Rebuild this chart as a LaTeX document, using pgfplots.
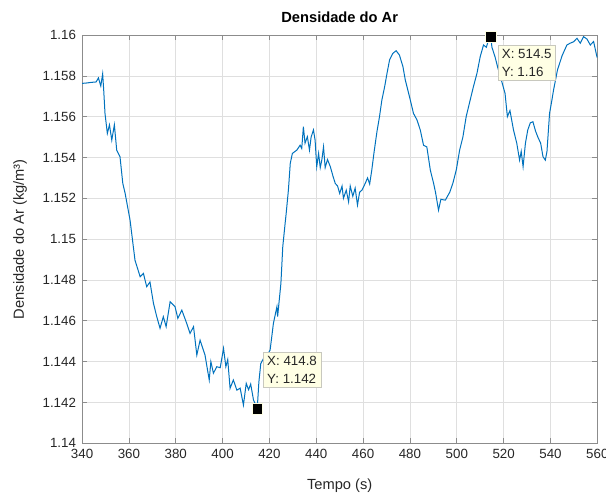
\documentclass[border=0pt]{standalone}
\usepackage{fontspec}
\setmainfont{Liberation Sans}
\usepackage{pgfplots}
\pgfplotsset{compat=1.18}
\definecolor{mblue}{RGB}{0,114,189}
\definecolor{frame}{RGB}{140,140,140}
\definecolor{txt}{RGB}{38,38,38}
\definecolor{tipfill}{RGB}{255,255,228}
\definecolor{tipdraw}{RGB}{200,200,190}
\begin{document}
\begin{tikzpicture}
\useasboundingbox (-61.5pt,-39pt) rectangle (392.75pt,332.25pt);
\begin{axis}[
  at={(0,0)}, anchor=south west,
  scale only axis, width=386.25pt, height=306pt,
  xmin=340, xmax=560, ymin=1.14, ymax=1.16,
  xtick={340,360,...,560},
  ytick={1.14,1.142,...,1.16},
  yticklabels={1.14,1.142,1.144,1.146,1.148,1.15,1.152,1.154,1.156,1.158,1.16},
  xticklabels={340,360,380,400,420,440,460,480,500,520,540,560},
  grid=major,
  major grid style={draw=gray!25, line width=0.5pt},
  axis line style={draw=frame, line width=0.75pt},
  tick style={draw=frame, line width=0.5pt},
  tick align=inside,
  major tick length=4pt,
  tick label style={font=\fontsize{10}{12}\selectfont, text=txt},
  /pgf/number format/assume math mode=true,
  xticklabel style={yshift=-1pt},
  yticklabel style={xshift=-1pt},
  title={Densidade do Ar},
  title style={font=\fontsize{11}{13}\selectfont\bfseries, text=black, at={(axis description cs:0.5,1.0245)}, anchor=center, yshift=0pt},
  xlabel={Tempo (s)},
  ylabel={Densidade do Ar (kg/m³)},
  xlabel style={font=\fontsize{11}{13}\selectfont, text=txt, at={(axis description cs:0.5,-0.1029)}, anchor=center},
  ylabel style={font=\fontsize{11}{13}\selectfont, text=txt, at={(axis description cs:-0.1204,0.5)}, anchor=center},
  clip=false,
]
\addplot[mblue, line width=0.75pt, mark=none] coordinates {
(340,1.15763) (342,1.15765) (344,1.15768) (346,1.1577) (347,1.1579) (348,1.1575)
(348.8,1.1581) (349.3,1.1572) (349.8,1.15616) (350.8,1.15518) (351.7,1.1556)
(352.7,1.15485) (353.8,1.1556) (354.8,1.15436) (356.2,1.15404) (357.4,1.15273)
(358.4,1.15224) (360.5,1.15093) (362.6,1.14897) (364.8,1.14816) (366.2,1.14832)
(367.6,1.14767) (369,1.1479) (370.5,1.14685) (371.9,1.1462) (373.3,1.14563)
(374.7,1.1462) (375.9,1.14571) (377.6,1.14693) (379.7,1.14669) (380.9,1.14612)
(382.6,1.14652) (384.7,1.14587) (386.1,1.14538) (387.6,1.14571) (389,1.14432)
(390.4,1.14505) (392.5,1.14432) (394.3,1.1431) (395,1.144) (396.1,1.14343)
(397.5,1.14375) (399,1.1437) (400.4,1.14465) (401.4,1.14375) (402.2,1.1441)
(403.2,1.14269) (404.6,1.1431) (406.1,1.1426) (407.5,1.1427) (408.9,1.14187)
(410.1,1.14293) (411.1,1.14262) (412,1.1429) (413.2,1.14212) (414.8,1.1417)
(415.5,1.1430) (416.3,1.1439) (417.5,1.14416) (419,1.1443) (420.3,1.14457)
(421.7,1.14587) (423.2,1.14669) (423.5,1.1462) (424.9,1.14783) (425.7,1.14963)
(426.7,1.15077) (427.1,1.1512) (428.1,1.1524) (428.9,1.15371) (429.8,1.1542)
(431.7,1.15436) (433.1,1.1546) (433.8,1.15444) (434.5,1.15551) (435.2,1.1547)
(436.2,1.15502) (437.1,1.15436) (437.8,1.155) (438.8,1.15535) (439.5,1.15485)
(440.2,1.15355) (441,1.1542) (441.7,1.1535) (442.4,1.1539) (443.1,1.15452)
(443.8,1.1535) (444.8,1.1539) (446,1.15355) (447.1,1.1531) (448.1,1.15273)
(449.1,1.1526) (450,1.15224) (451,1.1526) (451.6,1.152) (452.8,1.1524)
(453.8,1.15183) (454.5,1.1526) (455.6,1.1521) (456.6,1.1525) (457.6,1.15167)
(458.5,1.1523) (459.5,1.1524) (460.9,1.15273) (461.9,1.153) (462.8,1.1527)
(463.7,1.15338) (464.7,1.15428) (465.9,1.15526) (467,1.156) (468,1.15681)
(469.2,1.15747) (470.2,1.15812) (471.3,1.15878) (472.7,1.1591) (474.1,1.15923)
(475.5,1.15902) (477,1.15845) (478,1.1578) (479.8,1.15698) (481.5,1.15616)
(483,1.15584) (484.4,1.15535) (485.8,1.1546) (487.2,1.15452) (488.7,1.15338)
(490.1,1.15273) (490.9,1.1523) (492.2,1.15142) (493.2,1.15195) (495.1,1.15191)
(497,1.1523) (498.3,1.15273) (499.8,1.1534) (501.2,1.15436) (502.6,1.155)
(504,1.156) (505.7,1.15681) (507.1,1.15747) (508.6,1.15812) (510,1.15894)
(511.4,1.15951) (512.6,1.1594) (513.6,1.15976) (514.5,1.1599) (515,1.1594)
(516.4,1.1589) (517.5,1.1584) (519,1.1578) (520.6,1.15714) (521.6,1.156)
(522.7,1.1563) (524.2,1.15535) (525.6,1.1547) (526.8,1.15387) (527.5,1.1543)
(528.3,1.15355) (529.3,1.1547) (530.3,1.15535) (531.4,1.1557) (532.5,1.15575)
(533.6,1.1553) (534.6,1.155) (535.8,1.1547) (536.8,1.15404) (537.8,1.15387)
(538.5,1.1543) (539.6,1.15616) (540.6,1.15681) (541.3,1.1573) (543,1.1583)
(545,1.1590) (547,1.15951) (548.4,1.1596) (549.9,1.15967) (551.3,1.15984)
(552.7,1.1596) (554.1,1.15992) (555.6,1.1598) (557,1.15951) (558.4,1.15968)
(559.9,1.1589)
};
\addplot[only marks, mark=square*, mark size=4pt, mark options={fill=black, draw=tipfill, line width=0.4pt}] coordinates {(414.8,1.1417) (514.5,1.1599)};
\node[anchor=north west, fill=tipfill, draw=tipdraw, line width=0.5pt, align=left, inner xsep=3pt, inner ysep=3pt, font=\fontsize{10}{13.5}\selectfont, text=txt] at (axis cs:417.2,1.14448) {X: 414.8\\Y: 1.142};
\node[anchor=north west, fill=tipfill, draw=tipdraw, line width=0.5pt, align=left, inner xsep=3pt, inner ysep=3pt, font=\fontsize{10}{13.5}\selectfont, text=txt] at (axis cs:517.4,1.15951) {X: 514.5\\Y: 1.16};
\end{axis}
\end{tikzpicture}
\end{document}
